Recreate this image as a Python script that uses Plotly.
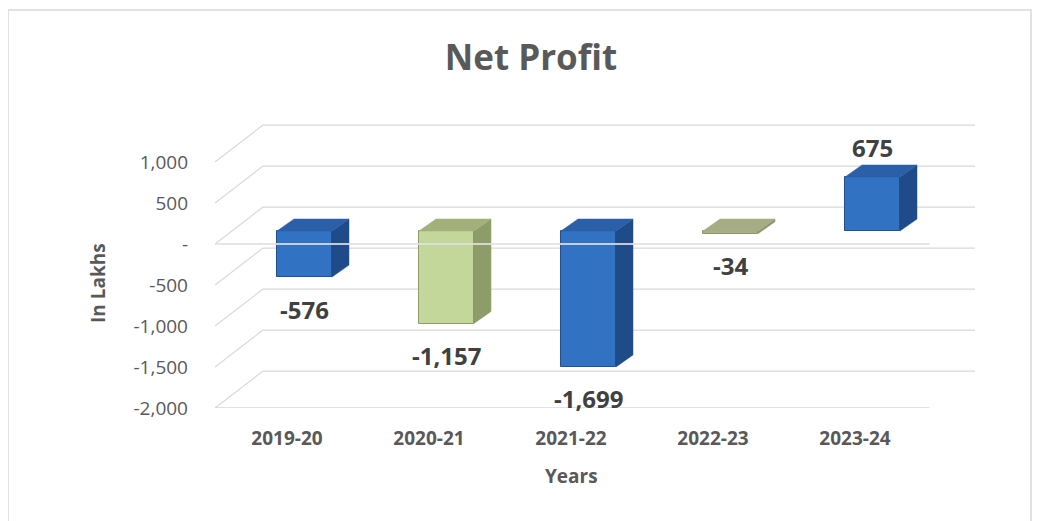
import plotly.graph_objects as go

# ---- data ----
years = ["2019-20", "2020-21", "2021-22", "2022-23", "2023-24"]
net_profit = [-576, -1157, -1699, -34, 675]
y_tick_vals = [1000, 500, 0, -500, -1000, -1500, -2000]
y_tick_text = ["1,000", "500", "-", "-500", "-1,000", "-1,500", "-2,000"]
value_labels = ["-576", "-1,157", "-1,699", "-34", "675"]

# ---- styling ----
OFF = 8                      # default page margin of the html body
W, H = 1040 - OFF, 521 - OFF
ML, MR, MT, MB = 215 - OFF, 65, 121 - OFF, 113
X_RANGE = [-0.507, 4.845]
Y_RANGE = [-2000, 1500]
BACK_DX = 0.338      # depth shift of back wall (category units)
BACK_DY = 450        # depth shift of back wall (value units)
BAR_SHIFT = 0.123
Y2_RANGE = [-2212, 1375]
BAR_W = 0.387
DEPTH_X = 0.12
DEPTH_Y = 150

front_cols = ["#3172C3", "#C4D79B", "#3172C3", "#A9AF88", "#3172C3"]
side_cols = ["#1F4C88", "#8E9C6A", "#1F4C88", "#8E9670", "#1F4C88"]
top_cols = ["#2B5FA8", "#A2B079", "#2B5FA8", "#A6AC84", "#2B5FA8"]
edge_cols = ["#224F8E", "#8E9C6A", "#224F8E", "#8E9670", "#224F8E"]

GRID = "#D9D9D9"
TXT = "#595959"
FONT = "Open Sans"

fig = go.Figure()

pw = W - ML - MR
ph = H - MT - MB


def px_to_paper_x(px):
    return (px - OFF - ML) / pw


def px_to_paper_y(py):
    return (H - MB - (py - OFF)) / ph


shapes = []
# back-wall gridlines and left-wall diagonals
for v in y_tick_vals:
    shapes.append(dict(type="line", xref="x", yref="y", layer="below",
                       x0=X_RANGE[0] + BACK_DX, x1=X_RANGE[1],
                       y0=v + BACK_DY, y1=v + BACK_DY,
                       line=dict(color=GRID, width=1.2)))
    shapes.append(dict(type="line", xref="x", yref="y", layer="below",
                       x0=X_RANGE[0], x1=X_RANGE[0] + BACK_DX,
                       y0=v, y1=v + BACK_DY,
                       line=dict(color=GRID, width=1.2)))
# floor front edge
shapes.append(dict(type="line", xref="x", yref="y", layer="below",
                   x0=X_RANGE[0], x1=X_RANGE[1] - 0.32,
                   y0=Y_RANGE[0], y1=Y_RANGE[0],
                   line=dict(color=GRID, width=1.5)))
# front zero line highlight drawn over bars
shapes.append(dict(type="line", xref="x", yref="y", layer="above",
                   x0=X_RANGE[0], x1=X_RANGE[1] - 0.32, y0=0, y1=0,
                   line=dict(color="rgba(225,225,225,0.85)", width=2)))
# outer chart border
shapes.append(dict(type="rect", xref="paper", yref="paper", layer="below",
                   x0=px_to_paper_x(8), x1=px_to_paper_x(1031),
                   y0=px_to_paper_y(540), y1=px_to_paper_y(10),
                   line=dict(color="#D9D9D9", width=1.5),
                   fillcolor="rgba(0,0,0,0)"))

# front faces of bars
fig.add_trace(go.Bar(
    x=list(range(len(years))), y=net_profit, base=0, width=BAR_W,
    marker=dict(color=front_cols, line=dict(color=edge_cols, width=1)),
    xaxis="x2", yaxis="y2", hoverinfo="skip", showlegend=False))

# side and top faces
for i, v in enumerate(net_profit):
    lo, hi = min(0, v), max(0, v)
    r = i + BAR_W / 2
    l = i - BAR_W / 2
    fig.add_trace(go.Scatter(
        x=[r, r + DEPTH_X, r + DEPTH_X, r, r],
        y=[lo, lo + DEPTH_Y, hi + DEPTH_Y, hi, lo],
        fill="toself", fillcolor=side_cols[i], mode="lines",
        line=dict(color=side_cols[i], width=0.5),
        xaxis="x2", yaxis="y2", hoverinfo="skip", showlegend=False))
    fig.add_trace(go.Scatter(
        x=[l, l + DEPTH_X, r + DEPTH_X, r, l],
        y=[hi, hi + DEPTH_Y, hi + DEPTH_Y, hi, hi],
        fill="toself", fillcolor=top_cols[i], mode="lines",
        line=dict(color=top_cols[i], width=0.5),
        xaxis="x2", yaxis="y2", hoverinfo="skip", showlegend=False))

annotations = []
for i, (v, t) in enumerate(zip(net_profit, value_labels)):
    annotations.append(dict(
        x=i, y=v, xref="x2", yref="y2", text=t, showarrow=False,
        xanchor="center", yanchor="middle",
        yshift=30 if v > 0 else -32,
        font=dict(family=FONT, size=24, color="#404040", weight="bold")))
annotations.append(dict(
    x=px_to_paper_x(98), y=px_to_paper_y(283), xref="paper", yref="paper",
    text="In Lakhs", textangle=-90, showarrow=False,
    xanchor="center", yanchor="middle",
    font=dict(family=FONT, size=19, color=TXT, weight="bold")))
annotations.append(dict(
    x=px_to_paper_x(571), y=px_to_paper_y(476), xref="paper", yref="paper",
    text="Years", showarrow=False, xanchor="center", yanchor="middle",
    font=dict(family=FONT, size=19, color=TXT, weight="bold")))

fig.update_layout(
    width=W, height=H,
    margin=dict(l=ML, r=MR, t=MT, b=MB),
    paper_bgcolor="white", plot_bgcolor="white",
    title=dict(text="<b>Net Profit</b>", x=(531 - OFF) / W, xanchor="center",
               y=1 - (58 - OFF) / H, yanchor="middle",
               font=dict(family=FONT, size=35, color=TXT)),
    xaxis=dict(range=X_RANGE, tickvals=list(range(len(years))), ticktext=years,
               showgrid=False, zeroline=False, showline=False, ticks="",
               ticklabelstandoff=17,
               tickfont=dict(family=FONT, size=19, color=TXT, weight="bold"),
               fixedrange=True),
    yaxis=dict(range=Y_RANGE, tickvals=y_tick_vals, ticktext=y_tick_text,
               showgrid=False, zeroline=False, showline=False, ticks="",
               ticklabelstandoff=26,
               tickfont=dict(family=FONT, size=19, color=TXT),
               fixedrange=True),
    xaxis2=dict(range=[X_RANGE[0] - BAR_SHIFT, X_RANGE[1] - BAR_SHIFT],
                overlaying="x", visible=False, fixedrange=True),
    yaxis2=dict(range=Y2_RANGE, overlaying="y", visible=False, fixedrange=True),
    shapes=shapes,
    annotations=annotations,
    bargap=0,
)

fig.write_html("out.html")
